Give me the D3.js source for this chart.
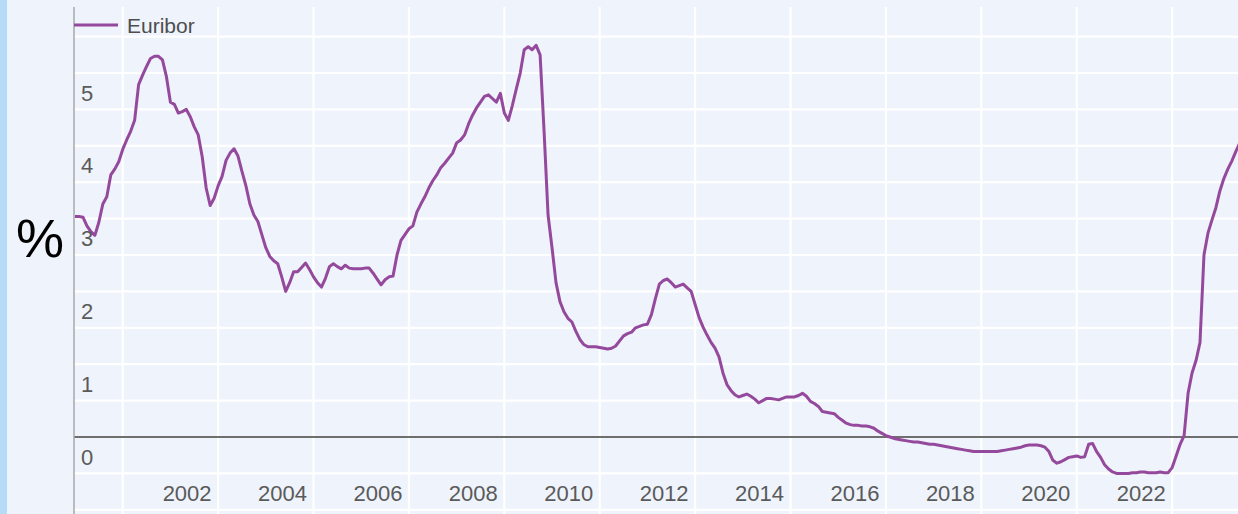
<!DOCTYPE html>
<html>
<head>
<meta charset="utf-8">
<script src="https://cdn.jsdelivr.net/npm/d3@7"></script>
<style>
  html, body { margin: 0; padding: 0; background: #eef3fc; }
  svg { display: block; }
</style>
</head>
<body>
<svg id="chart" width="1238" height="514"></svg>
<script>
// ---- data (12-month Euribor, monthly, %) ----
const seriesName = "Euribor";
const startYear = 1999;           // first value = January 1999
const v1999 = [3.03, 3.03, 3.02, 2.90, 2.82, 2.77, 2.95, 3.20, 3.30, 3.60, 3.68, 3.78];
const v2000 = [3.95, 4.08, 4.20, 4.35, 4.84, 4.97, 5.09, 5.20, 5.23, 5.23, 5.18, 4.95];
const v2001 = [4.60, 4.57, 4.45, 4.47, 4.50, 4.40, 4.26, 4.15, 3.85, 3.42, 3.18, 3.28];
const v2002 = [3.45, 3.58, 3.80, 3.90, 3.96, 3.86, 3.65, 3.45, 3.20, 3.05, 2.96, 2.78];
const v2003 = [2.60, 2.48, 2.42, 2.38, 2.20, 2.00, 2.12, 2.27, 2.27, 2.33, 2.39, 2.30];
const v2004 = [2.20, 2.12, 2.06, 2.18, 2.34, 2.38, 2.34, 2.31, 2.36, 2.32, 2.31, 2.31];
const v2005 = [2.31, 2.32, 2.32, 2.25, 2.17, 2.09, 2.16, 2.20, 2.21, 2.50, 2.70, 2.78];
const v2006 = [2.86, 2.90, 3.09, 3.20, 3.30, 3.42, 3.52, 3.60, 3.70, 3.76, 3.83, 3.90];
const v2007 = [4.04, 4.08, 4.15, 4.30, 4.42, 4.52, 4.60, 4.68, 4.70, 4.65, 4.60, 4.72];
const v2008 = [4.45, 4.35, 4.55, 4.78, 5.00, 5.32, 5.36, 5.32, 5.38, 5.25, 4.20, 3.05];
const v2009 = [2.60, 2.12, 1.86, 1.72, 1.63, 1.58, 1.45, 1.34, 1.27, 1.24, 1.24, 1.24];
const v2010 = [1.23, 1.22, 1.21, 1.22, 1.25, 1.32, 1.39, 1.42, 1.44, 1.50, 1.52, 1.54];
const v2011 = [1.55, 1.68, 1.90, 2.10, 2.15, 2.17, 2.12, 2.06, 2.08, 2.10, 2.05, 2.00];
const v2012 = [1.82, 1.64, 1.51, 1.40, 1.30, 1.22, 1.10, 0.88, 0.72, 0.64, 0.58, 0.55];
const v2013 = [0.57, 0.59, 0.56, 0.52, 0.47, 0.50, 0.53, 0.53, 0.52, 0.51, 0.53, 0.55];
const v2014 = [0.55, 0.55, 0.57, 0.60, 0.56, 0.49, 0.46, 0.42, 0.35, 0.34, 0.33, 0.32];
const v2015 = [0.27, 0.23, 0.19, 0.17, 0.16, 0.16, 0.15, 0.15, 0.14, 0.12, 0.08, 0.05];
const v2016 = [0.02, 0.00, -0.02, -0.03, -0.04, -0.05, -0.06, -0.07, -0.07, -0.08, -0.09, -0.10];
const v2017 = [-0.10, -0.11, -0.12, -0.13, -0.14, -0.15, -0.16, -0.17, -0.18, -0.19, -0.20, -0.20];
const v2018 = [-0.20, -0.20, -0.20, -0.20, -0.20, -0.19, -0.18, -0.17, -0.16, -0.15, -0.14, -0.12];
const v2019 = [-0.11, -0.11, -0.11, -0.12, -0.14, -0.20, -0.32, -0.36, -0.34, -0.31, -0.28, -0.27];
const v2020 = [-0.26, -0.28, -0.27, -0.10, -0.09, -0.20, -0.28, -0.38, -0.44, -0.48, -0.50, -0.50];
const v2021 = [-0.50, -0.50, -0.49, -0.49, -0.48, -0.48, -0.49, -0.49, -0.49, -0.48, -0.49, -0.49];
const v2022 = [-0.42, -0.26, -0.10, 0.02, 0.60, 0.88, 1.05, 1.30, 2.50, 2.80, 2.98, 3.15];
const v2023 = [3.38, 3.55, 3.68, 3.79, 3.92, 4.04];

const euribor = [].concat(v1999, v2000, v2001, v2002, v2003, v2004, v2005, v2006,
  v2007, v2008, v2009, v2010, v2011, v2012, v2013, v2014, v2015, v2016, v2017,
  v2018, v2019, v2020, v2021, v2022, v2023);

const yTickValues = [0, 1, 2, 3, 4, 5];
const yGridValues = [-1, -0.5, 0.5, 1, 1.5, 2, 2.5, 3, 3.5, 4, 4.5, 5, 5.5];
const xTickYears = [2002, 2004, 2006, 2008, 2010, 2012, 2014, 2016, 2018, 2020, 2022];
const xGridYears = [2000, 2002, 2004, 2006, 2008, 2010, 2012, 2014, 2016, 2018, 2020, 2022];
const yAxisTitle = "%";

// ---- drawing ----
const W = 1238, H = 514;
const svg = d3.select("#chart");
const lineColor = "#95499c";
const bg = "#eef3fc";

const x = d3.scaleLinear().domain([1999, 2023.38]).range([75, 1238]);
const y = d3.scaleLinear().domain([-1, 5.9]).range([509.8, 7.5]);

svg.append("rect").attr("x", 0).attr("y", 0).attr("width", W).attr("height", H).attr("fill", bg);
svg.append("rect").attr("x", 0).attr("y", 0).attr("width", 7).attr("height", H).attr("fill", "#b6dbf7");

svg.append("defs").append("clipPath").attr("id", "plotclip")
  .append("rect").attr("x", 74).attr("y", 7).attr("width", W - 74).attr("height", H - 7);

const plot = svg.append("g").attr("clip-path", "url(#plotclip)");

// horizontal gridlines
plot.append("g").selectAll("line").data(yGridValues).join("line")
  .attr("x1", 74).attr("x2", W)
  .attr("y1", d => y(d)).attr("y2", d => y(d))
  .attr("stroke", "#ffffff").attr("stroke-width", 2.2);

// vertical gridlines
plot.append("g").selectAll("line").data(xGridYears).join("line")
  .attr("x1", d => x(d)).attr("x2", d => x(d))
  .attr("y1", 7).attr("y2", H)
  .attr("stroke", "#ffffff").attr("stroke-width", 2.2);

// zero line
plot.append("line")
  .attr("x1", 74).attr("x2", W).attr("y1", y(0)).attr("y2", y(0))
  .attr("stroke", "#6e6e6e").attr("stroke-width", 2);

// left axis line
svg.append("line")
  .attr("x1", 74).attr("x2", 74).attr("y1", 7).attr("y2", H)
  .attr("stroke", "#a8a8a8").attr("stroke-width", 1.5);

// y tick labels (placed just below their value)
svg.append("g").selectAll("text").data(yTickValues).join("text")
  .attr("x", 81).attr("y", d => y(d) + 27.5)
  .attr("font-family", "'Liberation Sans', Arial, sans-serif")
  .attr("font-size", 22).attr("fill", "#5a5a5a")
  .text(d => d3.format("d")(d));

// x tick labels (left of their gridline)
svg.append("g").selectAll("text").data(xTickYears).join("text")
  .attr("x", d => x(d) - 31).attr("y", 501)
  .attr("text-anchor", "middle")
  .attr("font-family", "'Liberation Sans', Arial, sans-serif")
  .attr("font-size", 22).attr("fill", "#5a5a5a")
  .text(d => String(d));

// series line
const line = d3.line()
  .x((d, i) => x(startYear + i / 12))
  .y(d => y(d));
plot.append("path").datum(euribor)
  .attr("d", line)
  .attr("fill", "none")
  .attr("stroke", lineColor)
  .attr("stroke-width", 3)
  .attr("stroke-linejoin", "round");

// legend
svg.append("line").attr("x1", 74).attr("x2", 118).attr("y1", 25).attr("y2", 25)
  .attr("stroke", lineColor).attr("stroke-width", 3);
svg.append("text").attr("x", 127).attr("y", 33)
  .attr("font-family", "'Liberation Sans', Arial, sans-serif")
  .attr("font-size", 21).attr("fill", "#4e4e4e")
  .text(seriesName);

// y axis title
svg.append("text").attr("x", 16).attr("y", 257)
  .attr("font-family", "'Liberation Sans', Arial, sans-serif")
  .attr("font-size", 54).attr("fill", "#000")
  .text(yAxisTitle);
</script>
</body>
</html>
